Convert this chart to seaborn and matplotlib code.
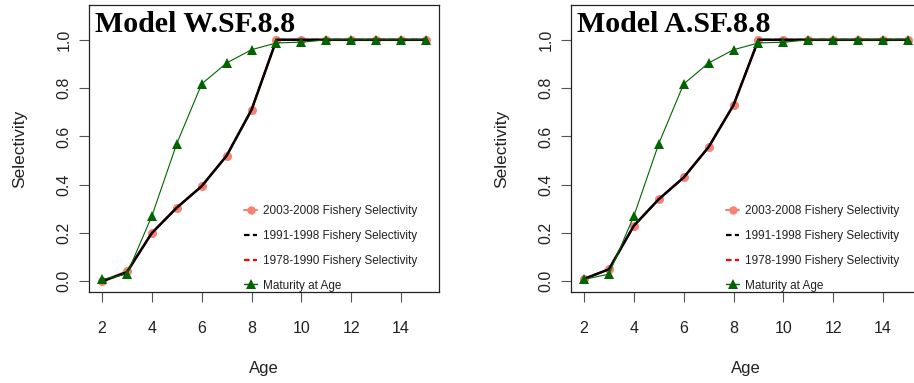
import matplotlib
matplotlib.use("Agg")
import matplotlib.pyplot as plt
from matplotlib.lines import Line2D
import seaborn as sns

sns.set_style("ticks")
plt.rcParams["font.family"] = ["Liberation Sans", "DejaVu Sans"]

# Ages and selectivity / maturity curves for the two models
ages = [2, 3, 4, 5, 6, 7, 8, 9, 10, 11, 12, 13, 14, 15]

maturity = [0.008, 0.03, 0.27, 0.57, 0.817, 0.904, 0.959, 0.987, 0.99,
            1.0, 1.0, 1.0, 1.0, 1.0]

w_sel_2003_2008 = [0.0, 0.043, 0.20, 0.305, 0.394, 0.52, 0.71, 1.0, 1.0,
                   1.0, 1.0, 1.0, 1.0, 1.0]
w_sel_1991_1998 = [0.0, 0.038, 0.20, 0.305, 0.394, 0.52, 0.71, 1.0, 1.0,
                   1.0, 1.0, 1.0, 1.0, 1.0]
w_sel_1978_1990 = [0.0, 0.038, 0.20, 0.305, 0.394, 0.52, 0.71, 1.0, 1.0,
                   1.0, 1.0, 1.0, 1.0, 1.0]

a_sel_2003_2008 = [0.01, 0.05, 0.23, 0.34, 0.43, 0.556, 0.73, 1.0, 1.0,
                   1.0, 1.0, 1.0, 1.0, 1.0]
a_sel_1991_1998 = [0.01, 0.05, 0.23, 0.34, 0.43, 0.556, 0.73, 1.0, 1.0,
                   1.0, 1.0, 1.0, 1.0, 1.0]
a_sel_1978_1990 = [0.01, 0.05, 0.23, 0.34, 0.43, 0.556, 0.73, 1.0, 1.0,
                   1.0, 1.0, 1.0, 1.0, 1.0]

titles = ["Model W.SF.8.8", "Model A.SF.8.8"]
legend_labels = ["2003-2008 Fishery Selectivity",
                 "1991-1998 Fishery Selectivity",
                 "1978-1990 Fishery Selectivity",
                 "Maturity at Age"]
x_ticks = [2, 4, 6, 8, 10, 12, 14]
y_ticks = [0.0, 0.2, 0.4, 0.6, 0.8, 1.0]

SALMON = "#FA8072"
GREEN = "#006400"

fig = plt.figure(figsize=(9.14, 3.83), dpi=100)
axes = [fig.add_axes([89 / 914, 91 / 383, 350 / 914, 287 / 383]),
        fig.add_axes([571 / 914, 91 / 383, 350 / 914, 287 / 383])]

panels = [(w_sel_2003_2008, w_sel_1991_1998, w_sel_1978_1990),
          (a_sel_2003_2008, a_sel_1991_1998, a_sel_1978_1990)]

for ax, title, (s_new, s_mid, s_old) in zip(axes, titles, panels):
    sns.lineplot(x=ages, y=s_new, ax=ax, color=SALMON, marker="o",
                 markersize=6.5, markeredgewidth=0, linewidth=1.5, zorder=2)
    sns.lineplot(x=ages, y=s_old, ax=ax, color="red", linestyle="--",
                 linewidth=1.5, zorder=3)
    sns.lineplot(x=ages, y=s_mid, ax=ax, color="black", linewidth=1.8,
                 zorder=4)
    sns.lineplot(x=ages, y=maturity, ax=ax, color=GREEN, marker="^",
                 markersize=7.5, markeredgewidth=0, linewidth=0.8, zorder=5)

    ax.set_xlim(1.48, 15.52)
    ax.set_ylim(-0.044, 1.144)
    ax.set_xticks(x_ticks)
    ax.set_xticklabels([str(t) for t in x_ticks])
    ax.set_yticks(y_ticks)
    ax.set_yticklabels([f"{t:.1f}" for t in y_ticks])
    ax.tick_params(axis="both", direction="out", length=7.2, width=0.8,
                   color="#555555", labelsize=11.5, labelcolor="#222222")
    ax.tick_params(axis="x", pad=14)
    ax.tick_params(axis="y", pad=5.5, labelrotation=90)
    for lab in ax.get_yticklabels():
        lab.set_va("center")
    for side in ax.spines.values():
        side.set_linewidth(0.9)
        side.set_color("#222222")

    ax.set_xlabel("Age", fontsize=12, color="#222222", labelpad=18)
    ax.set_ylabel("Selectivity", fontsize=12.5, color="#222222",
                  labelpad=21)

    ax.text(0.017, 0.978, title, transform=ax.transAxes, ha="left",
            va="top", fontsize=21.5, fontweight="bold",
            family=["Liberation Serif", "DejaVu Serif"], color="black")

    handles = [
        Line2D([], [], color=SALMON, marker="o", markersize=6,
               markeredgewidth=0, linewidth=1.5),
        Line2D([], [], color="black", linestyle="--", linewidth=1.6,
               dashes=(2.5, 1.5)),
        Line2D([], [], color="red", linestyle="--", linewidth=1.6,
               dashes=(2.5, 1.5)),
        Line2D([], [], color=GREEN, marker="^", markersize=7,
               markeredgewidth=0, linewidth=1.0),
    ]
    leg = ax.legend(handles, legend_labels, loc="upper left",
                    bbox_to_anchor=(0.444, 0.302), frameon=False,
                    fontsize=8.5, handlelength=1.05, handletextpad=0.5,
                    labelspacing=1.08, borderaxespad=0, borderpad=0)
    for t in leg.get_texts():
        t.set_color("#222222")

fig.savefig("out.png", dpi=100)
